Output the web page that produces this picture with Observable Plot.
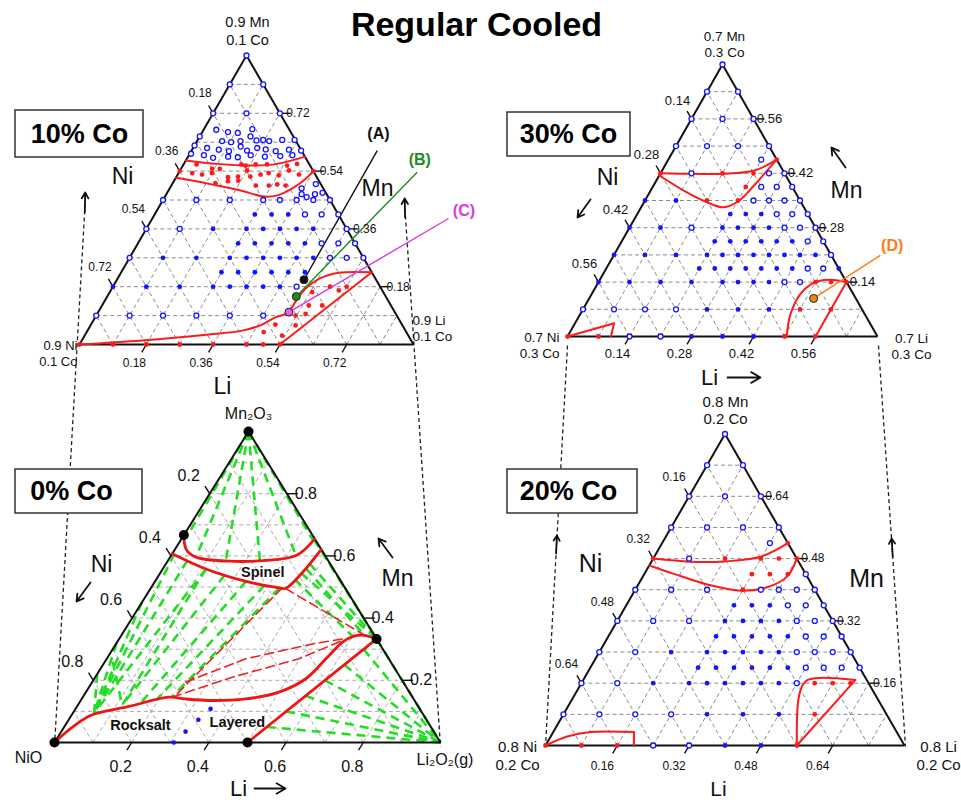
<!DOCTYPE html>
<html>
<head>
<meta charset="utf-8">
<script src="https://cdn.jsdelivr.net/npm/d3@7"></script>
<script src="https://cdn.jsdelivr.net/npm/@observablehq/plot@0.6"></script>
<style>
html,body{margin:0;padding:0;background:#fff;}
#chart svg{display:block;}
</style>
</head>
<body>
<div id="chart"></div>
<script>
// ================= DATA =================
const title = "Regular Cooled";
const panelNames = ["10% Co", "30% Co", "0% Co", "20% Co"];

// tick labels (Ni on left edge, Mn on right edge, Li on bottom edge), at grid steps 2,4,6,8
const ticks10 = ["0.18", "0.36", "0.54", "0.72"];
const ticks30 = ["0.14", "0.28", "0.42", "0.56"];
const ticks20 = ["0.16", "0.32", "0.48", "0.64"];
const ticks0  = ["0.2", "0.4", "0.6", "0.8"];

// vertex labels: [top, left, right]
const vertex10 = [["0.9 Mn", "0.1 Co"], ["0.9 Ni", "0.1 Co"], ["0.9 Li", "0.1 Co"]];
const vertex30 = [["0.7 Mn", "0.3 Co"], ["0.7 Ni", "0.3 Co"], ["0.7 Li", "0.3 Co"]];
const vertex20 = [["0.8 Mn", "0.2 Co"], ["0.8 Ni", "0.2 Co"], ["0.8 Li", "0.2 Co"]];
const vertex0  = [["Mn₂O₃"], ["NiO"], ["Li₂O₂(g)"]];

// Sample points: rows of [Mn step, open-circle Li steps, filled Li steps, red Li steps]
// (composition in tenths of the triangle: l = Li step, m = Mn step)
const rows10 = [
  [10, [0], [], []],
  [9, [0, 1], [], []],
  [8, [0, 1, 2], [], []],
  [6, [], [], [0, 4]],
  [5, [0, 1, 2, 3, 3.5, 4, 4.5, 5], [], []],
  [4.5, [4.5, 5, 5.5], [3, 3.5, 4], []],
  [4, [0, 1, 6], [2, 3, 3.5, 4, 4.5, 5], []],
  [3.5, [5.5, 6, 6.5], [3, 3.5, 4, 4.5, 5], []],
  [3, [0, 6, 6.5, 7], [1, 2, 3, 3.5, 4, 4.5, 5, 5.5], []],
  [2.5, [], [3, 3.5, 4, 4.5, 5, 5.5], []],
  [2, [5.5], [0, 1, 2, 3, 3.5, 4, 4.5, 5], [6.5, 7]],
  [1, [0, 1, 2, 3, 4, 5], [], []],
  [0, [], [], [0, 1, 2, 3, 4, 5, 5.5, 6]]
];
// 10% Co: densely sampled compositions off the grid [l, m]
const open10 = [
  [0, 7.2], [0.38, 7.43], [0.77, 7.35], [1.08, 7.32], [1.45, 7.45],
  [0.75, 7.04], [1.04, 7.0], [1.3, 7.04], [1.52, 7.2], [1.77, 7.06], [1.96, 7.08], [2.16, 7.04], [2.53, 7.08], [2.9, 7.08],
  [0, 6.89], [0.42, 6.8], [0.8, 6.74], [1.13, 6.69], [1.4, 6.85], [1.66, 6.71], [1.92, 6.8], [2.2, 6.75], [2.53, 6.69], [2.9, 6.74], [3.28, 6.71],
  [0.04, 6.6], [0.45, 6.55], [0.77, 6.46], [1.2, 6.5], [1.5, 6.48], [1.85, 6.55], [2.3, 6.5], [2.75, 6.52], [3.1, 6.55],
  [4.3, 5.55], [4.05, 5.2], [4.25, 5.1], [4.45, 5.2], [4.65, 5.25], [3.95, 5.4]
];
const red10 = [
  [0.39, 6.23], [0.93, 6.08], [1.16, 6.08], [1.73, 6.23], [1.88, 6.19], [2.16, 6.23], [2.5, 6.23], [3.12, 6.19], [3.39, 6.25],
  [0.41, 5.93], [0.73, 5.88], [1.0, 5.93], [1.55, 5.79], [1.84, 5.81], [2.01, 6.02], [2.21, 5.81], [2.48, 5.88], [2.7, 5.93],
  [3.04, 5.85], [3.26, 6.02], [3.63, 5.88], [1.62, 5.65], [1.92, 5.67], [2.53, 5.5], [2.92, 5.5], [3.15, 5.54], [3.42, 5.5], [1.28, 5.58],
  [5.52, 0.69], [5.91, 0.31], [5.3, 0.43], [6.14, 0.66], [6.24, 1.06], [5.97, 1.0], [6.19, 1.35], [6.59, 1.35], [6.06, 1.81], [6.83, 1.87]
];

const rows30 = [
  [10, [0], [], []],
  [9, [0, 1], [], []],
  [8, [0, 1, 2], [], []],
  [7, [0, 1, 2, 3], [], []],
  [6.5, [3], [], [3.5]],
  [6, [1, 3.5, 4], [], [0, 2, 3]],
  [5.5, [3.5, 4, 4.5], [], [3]],
  [5, [3.5, 4, 4.5, 5], [0, 1], [2, 3]],
  [4.5, [4.5, 5, 5.5], [3, 3.5, 4], []],
  [4, [2, 5, 5.5, 6], [0, 1, 3, 3.5, 4, 4.5], []],
  [3.5, [6, 6.5], [3, 3.5, 4, 4.5, 5, 5.5], []],
  [3, [7], [0, 1, 2, 3, 3.5, 4, 4.5, 5, 5.5, 6, 6.5], []],
  [2.5, [6.5, 7], [3, 3.5, 4, 4.5, 5, 5.5, 6, 7.5], []],
  [2, [6, 6.5], [0, 1, 2, 3, 4, 4.5, 5, 5.5], [7, 7.5, 8]],
  [1, [0, 1, 2, 3], [4, 5, 6], [7, 8]],
  [0, [2, 3], [4, 5, 6], [0, 1, 7, 8]]
];

const rows20 = [
  [10, [0], [], []],
  [9, [0, 1], [], []],
  [8, [0, 1, 2], [], []],
  [7, [0, 1, 2, 3], [], []],
  [6.5, [3], [], [3.5]],
  [6, [1], [], [0, 2, 3, 3.5, 4]],
  [5.5, [4.5], [], [3, 3.5, 4]],
  [5, [0, 1, 2, 3.5, 4, 4.5, 5], [], [3]],
  [4.5, [4.5, 5, 5.5], [3, 3.5, 4], []],
  [4, [0, 1, 2, 5, 5.5, 6], [3, 3.5, 4, 4.5], []],
  [3.5, [5.5, 6, 6.5], [3, 3.5, 4, 4.5, 5], []],
  [3, [0, 1, 5.5, 6, 6.5, 7], [2, 3, 3.5, 4, 4.5, 5], []],
  [2.5, [6, 6.5, 7, 7.5], [3, 3.5, 4, 4.5, 5, 5.5], []],
  [2, [0, 1, 6], [2, 3, 3.5, 4, 4.5, 5, 5.5], [6.5, 7, 7.5]],
  [1, [0, 1, 2, 3], [4, 5, 6], [7]],
  [0, [3, 4], [5, 6], [0, 1, 2, 7]]
];

const blue0 = [[3.5, 1.08], [3.36, 0.73], [3.22, 0.35], [3.09, 0]];
const black0 = [[0, 10], [0, 6.67], [6.67, 3.33], [0, 0], [5, 0]];

// phase boundaries [l, m]
const bound10 = {
  spinelTop: [[0, 6.37], [1.0, 6.25], [2.02, 6.19], [2.79, 6.25], [3.5, 6.5]],
  spinelBottom: [[0, 5.77], [0.81, 5.62], [1.37, 5.5], [2.16, 5.33], [2.96, 5.12], [3.34, 5.16], [3.7, 5.44], [3.9, 5.73], [4, 6]],
  layered: [[0, 0], [1.8, 0.14], [3.7, 0.35], [4.63, 0.48], [5.12, 0.69], [5.4, 0.95], [5.64, 1.06], [5.72, 1.29], [5.73, 1.58], [5.8, 1.93], [6.03, 2.27], [6.52, 2.48], [7.5, 2.5]]
};
const straight10 = [[[6, 0], [7.5, 2.5]]];
const bound30 = {
  spinelTop: [[0, 6], [1.01, 5.98], [2.03, 5.98], [2.98, 6.1], [3.5, 6.5]],
  spinelBottom: [[0, 5.92], [1.2, 5.3], [2.0, 4.95], [2.66, 4.75], [3.03, 4.98], [3.24, 5.55], [3.39, 6.1], [3.5, 6.5]],
  layered: [[7.07, 0], [6.78, 0.83], [6.73, 1.57], [6.88, 1.91], [7.06, 2.03], [7.55, 2.08], [8, 2]]
};
const straight30 = [[[8, 0], [8, 2]], [[0, 0], [1.26, 0.49], [1.4, 0]]];
const bound20 = {
  spinelTop: [[0, 6], [1.09, 5.9], [2.04, 5.91], [2.96, 6.06], [3.5, 6.5]],
  spinelBottom: [[0, 5.78], [0.82, 5.51], [1.92, 5.17], [2.95, 4.97], [3.63, 5.08], [4.02, 5.43], [4, 6]],
  layered: [[7, 0], [6.5, 1.02], [6.28, 1.55], [6.19, 1.93], [6.24, 2.1], [6.57, 2.17], [7.58, 2.1]],
  rocksalt: [[0, 0], [0.46, 0.29], [1.04, 0.43], [2.25, 0.43]]
};
const straight20 = [[[7, 0], [7.58, 2.1]], [[2.25, 0.43], [2.46, 0]]];
const bound0 = {
  spinelTop: [[0, 6.67], [0.29, 6.21], [0.67, 5.96], [1.6, 5.83], [2.46, 5.85], [3.24, 6.01], [3.45, 6.53]],
  spinelBottom: [[0, 6.07], [1.12, 5.58], [2.36, 5.18], [3.33, 4.97], [3.5, 4.96], [3.68, 5.48], [3.79, 6.21]],
  rocksaltLayered: [[0, 0], [0.21, 0.49], [0.53, 0.89], [1.35, 1.16], [2.23, 1.46], [2.69, 1.4], [3.41, 1.35], [4.25, 1.4], [5.0, 1.62], [5.48, 2.05], [5.68, 2.69], [5.84, 3.23], [6.04, 3.42], [6.34, 3.44], [6.67, 3.33]]
};
const straight0 = [[[5, 0], [6.67, 3.33]]];
const dashed0 = [
  [[3.4, 4.97], [2.36, 1.46]],
  [[3.5, 4.95], [6.3, 3.45]],
  [[2.42, 1.94], [3.6, 2.69], [5.09, 3.17], [5.79, 3.33]],
  [[2.32, 1.46], [3.55, 2.1], [4.98, 2.69], [5.81, 3.28]]
];
// tie lines (green) in the 0% Co diagram
const tie0 = [
  [[0, 10], [0.1, 6.76]], [[0, 10], [0.67, 5.96]], [[0, 10], [1.5, 5.84]], [[0, 10], [2.38, 5.85]], [[0, 10], [3.24, 6.0]], [[0, 10], [3.43, 6.5]],
  [[0.06, 6.07], [0.55, 0.95]], [[0.5, 5.85], [0.55, 0.95]], [[1.12, 5.58], [0.55, 0.95]], [[0, 4.5], [0.55, 0.95]], [[0, 3.2], [0.55, 0.95]],
  [[1.7, 5.38], [1.15, 1.2]], [[1.12, 5.58], [1.15, 1.2]], [[2.36, 5.18], [1.6, 1.3]], [[2.9, 5.05], [1.95, 1.38]], [[3.33, 4.97], [2.3, 1.46]],
  [[0, 2.2], [0.55, 0.95]], [[0.2, 2.6], [1.15, 1.2]],
  [[3.79, 6.2], [6.67, 3.33]], [[3.72, 5.75], [6.67, 3.33]], [[3.65, 5.45], [6.67, 3.33]], [[3.45, 6.52], [6.67, 3.33]],
  [[3.58, 5.25], [6.0, 3.42]], [[3.7, 5.6], [6.3, 3.44]],
  [[5.25, 0.5], [10, 0]], [[5.5, 1.0], [10, 0]], [[5.75, 1.5], [10, 0]], [[6.0, 2.0], [10, 0]], [[6.25, 2.5], [10, 0]], [[6.5, 3.0], [10, 0]], [[6.67, 3.33], [10, 0]]
];

// labelled compositions with leader lines: [l, m] of point, [l, m] of line end, [l, m] of label
const marked10 = [
  {name: "(A)", pt: [5.6, 2.24], end: [5.56, 6.71], lab: [5.3, 7.3], color: "#111111", dot: "#111111"},
  {name: "(B)", pt: [5.66, 1.66], end: [7.13, 5.96], lab: [7.0, 6.38], color: "#1e8c1e", dot: "#1e8c1e"},
  {name: "(C)", pt: [5.71, 1.12], end: [8.87, 4.36], lab: [9.2, 4.62], color: "#d63ae0", dot: "#e060e8"}
];
const marked30 = [
  {name: "(D)", pt: [7.24, 1.4], end: [8.6, 2.98], lab: [8.8, 3.35], color: "#ff7a12", dot: "#e8891e"}
];
// phase-region names in the 0% Co diagram, placed at [l, m]
const phaseNames0 = [
  {text: "Spinel", at: [2.64, 5.48]},
  {text: "Rocksalt", at: [1.95, 0.55]},
  {text: "Layered", at: [4.41, 0.65]}
];

// ================= LAYOUT (pixel geometry, styles) =================
const layout = {
  t10: {L: [79, 344], R: [413, 344], T: [246, 55], font: 12, bOff: [-12, 19], lOff: [-13, -20], rOff: 18},
  t30: {L: [567, 336], R: [877, 336], T: [722, 64], font: 13, bOff: [-12, 17], lOff: [-14, -18], rOff: 16},
  t20: {L: [545, 745], R: [904, 745], T: [724.5, 433.5], font: 12, bOff: [-15, 21], lOff: [-15, -19], rOff: 16},
  t0:  {L: [54, 742], R: [440, 742], T: [248, 431], font: 16, bOff: [-11, 24], lOff: [-21, -18], rOff: 19}
};
const vertexPos = {
  t10: [{x: 247, y: 22, a: "middle", f: 14.5, g: 18}, {x: 77, y: 345, a: "end", f: 13, g: 16}, {x: 412, y: 320, a: "start", f: 13.5, g: 16}],
  t30: [{x: 724, y: 36, a: "middle", f: 13.5, g: 16}, {x: 559, y: 337, a: "end", f: 13.5, g: 16}, {x: 911, y: 338, a: "middle", f: 13.5, g: 16}],
  t20: [{x: 725, y: 402, a: "middle", f: 15, g: 17}, {x: 517, y: 747, a: "middle", f: 15, g: 18}, {x: 938, y: 747, a: "middle", f: 15, g: 18}],
  t0:  [{x: 248, y: 413, a: "middle", f: 16, g: 0}, {x: 28, y: 757, a: "middle", f: 16, g: 0}, {x: 416, y: 759, a: "start", f: 16, g: 0}]
};
const boxes = [
  {x1: 15, x2: 143, y1: 110, y2: 157, tx: 79, ty: 134},
  {x1: 507, x2: 630, y1: 112, y2: 156, tx: 568, ty: 134},
  {x1: 15, x2: 142, y1: 469, y2: 513, tx: 71, ty: 491},
  {x1: 507, x2: 637, y1: 469, y2: 513, tx: 568, ty: 491}
];
const axisNames = [
  {x: 122, y: 176, text: "Ni", f: 23}, {x: 377, y: 188, text: "Mn", f: 23}, {x: 222, y: 386, text: "Li", f: 23},
  {x: 607, y: 177, text: "Ni", f: 23}, {x: 846, y: 190, text: "Mn", f: 23}, {x: 709, y: 377, text: "Li", f: 22},
  {x: 101, y: 564, text: "Ni", f: 23}, {x: 397, y: 578, text: "Mn", f: 23}, {x: 238, y: 788, text: "Li", f: 22},
  {x: 590, y: 563, text: "Ni", f: 25}, {x: 866, y: 578, text: "Mn", f: 25}, {x: 718, y: 789, text: "Li", f: 21}
];
const arrowsPix = [
  {x1: 590, y1: 199, x2: 577, y2: 217}, {x1: 845, y1: 167, x2: 831, y2: 147}, {x1: 727, y1: 377, x2: 760, y2: 377},
  {x1: 90, y1: 582, x2: 76, y2: 601}, {x1: 392, y1: 557, x2: 378, y2: 538}, {x1: 254, y1: 788, x2: 285, y2: 788},
  {x1: 84.3, y1: 212, x2: 84.7, y2: 192}, {x1: 404.6, y1: 217, x2: 404.2, y2: 198},
  {x1: 555.6, y1: 553, x2: 556.4, y2: 535}, {x1: 892.2, y1: 556, x2: 891.2, y2: 538}
];
const connectors = [
  {x1: 85, y1: 196, x2: 54, y2: 746}, {x1: 404, y1: 201, x2: 440, y2: 746},
  {x1: 567, y1: 345, x2: 545, y2: 746}, {x1: 878, y1: 345, x2: 905, y2: 746}
];

// ================= GEOMETRY HELPERS =================
function P(t, l, m) {
  const g = layout[t];
  const a = 1 - (l + m) / 10, b = l / 10, c = m / 10;
  return [a * g.L[0] + b * g.R[0] + c * g.T[0], a * g.L[1] + b * g.R[1] + c * g.T[1]];
}
function seg(t, p, q, extra = {}) {
  const [x1, y1] = P(t, p[0], p[1]);
  const [x2, y2] = P(t, q[0], q[1]);
  return {x1, y1, x2, y2, ...extra};
}
function pathRows(t, list, id) {
  return list.map(([l, m], i) => { const [x, y] = P(t, l, m); return {x, y, id: t + id, i}; });
}

const tris = ["t10", "t30", "t20", "t0"];
const tickSets = {t10: ticks10, t30: ticks30, t20: ticks20, t0: ticks0};
const vertexSets = {t10: vertex10, t30: vertex30, t20: vertex20, t0: vertex0};

// grid lines, edges, ticks
const grid = [], edges = [], tickLines = [], tickText = [], vText = [];
for (const t of tris) {
  const light = t === "t0";
  for (let k = 1; k <= 9; k++) {
    grid.push(seg(t, [0, k], [10 - k, k], {light}));
    grid.push(seg(t, [k, 0], [k, 10 - k], {light}));
    grid.push(seg(t, [k, 0], [0, k], {light}));
  }
  edges.push(seg(t, [0, 0], [10, 0]), seg(t, [10, 0], [0, 10]), seg(t, [0, 10], [0, 0]));
  const g = layout[t];
  tickSets[t].forEach((lab, i) => {
    const k = 2 * (i + 1);
    const unit = (p, q) => { const dx = p[0] - q[0], dy = p[1] - q[1], n = Math.hypot(dx, dy); return [dx / n, dy / n]; };
    let b = P(t, k, 0), d = unit(b, P(t, k, 1));
    tickLines.push({x1: b[0], y1: b[1], x2: b[0] + d[0] * 9, y2: b[1] + d[1] * 9});
    tickText.push({x: b[0] + g.bOff[0], y: b[1] + g.bOff[1], text: lab, f: g.font, a: "middle"});
    b = P(t, 0, 10 - k); d = unit(b, P(t, 1, 9 - k));
    tickLines.push({x1: b[0], y1: b[1], x2: b[0] + d[0] * 9, y2: b[1] + d[1] * 9});
    tickText.push({x: b[0] + g.lOff[0], y: b[1] + g.lOff[1], text: lab, f: g.font, a: "middle"});
    b = P(t, 10 - k, k); d = unit(b, P(t, 9 - k, k));
    tickLines.push({x1: b[0], y1: b[1], x2: b[0] + d[0] * 11, y2: b[1] + d[1] * 11});
    tickText.push({x: b[0] + g.rOff, y: b[1], text: lab, f: g.font, a: "start"});
  });
  vertexSets[t].forEach((lines, j) => {
    const v = vertexPos[t][j];
    lines.forEach((s, n) => vText.push({x: v.x, y: v.y + n * v.g, text: s, f: v.f, a: v.a}));
  });
}

// sample points
const dots = [];
for (const [t, rows] of [["t10", rows10], ["t30", rows30], ["t20", rows20]]) {
  for (const [m, op, fi, re] of rows) {
    for (const l of op) dots.push({t, l, m, kind: "open"});
    for (const l of fi) dots.push({t, l, m, kind: "filled"});
    for (const l of re) dots.push({t, l, m, kind: "red"});
  }
}
for (const [l, m] of open10) dots.push({t: "t10", l, m, kind: "open"});
for (const [l, m] of red10) dots.push({t: "t10", l, m, kind: "red"});
for (const [l, m] of blue0) dots.push({t: "t0", l, m, kind: "small"});
for (const [l, m] of black0) dots.push({t: "t0", l, m, kind: "black"});
dots.forEach(d => { const [x, y] = P(d.t, d.l, d.m); d.x = x; d.y = y; });

// curves
const smooth = [], smoothThick = [];
for (const [k, v] of Object.entries(bound10)) smooth.push(...pathRows("t10", v, k));
for (const [k, v] of Object.entries(bound30)) smooth.push(...pathRows("t30", v, k));
for (const [k, v] of Object.entries(bound20)) smooth.push(...pathRows("t20", v, k));
for (const [k, v] of Object.entries(bound0)) smoothThick.push(...pathRows("t0", v, k));
const straightLines = [];
straight10.forEach((s, i) => straightLines.push(...pathRows("t10", s, "s" + i)));
straight30.forEach((s, i) => straightLines.push(...pathRows("t30", s, "s" + i)));
straight20.forEach((s, i) => straightLines.push(...pathRows("t20", s, "s" + i)));
const straightThick = [];
straight0.forEach((s, i) => straightThick.push(...pathRows("t0", s, "s" + i)));
const dashedRed = [];
dashed0.forEach((s, i) => dashedRed.push(...pathRows("t0", s, "d" + i)));
const ties = tie0.map(([p, q]) => seg("t0", p, q));

// labelled points
const leaders = [], leaderDots = [], leaderText = [];
for (const [t, list] of [["t10", marked10], ["t30", marked30]]) {
  for (const mk of list) {
    leaders.push(seg(t, mk.pt, mk.end, {color: mk.color}));
    const [x, y] = P(t, mk.pt[0], mk.pt[1]);
    leaderDots.push({x, y, fill: mk.dot});
    const [lx, ly] = P(t, mk.lab[0], mk.lab[1]);
    leaderText.push({x: lx, y: ly, text: mk.name, color: mk.color});
  }
}
const phaseLabels = phaseNames0.map(d => { const [x, y] = P("t0", d.at[0], d.at[1]); return {x, y, text: d.text}; });

// ================= PLOT =================
const chart = Plot.plot({
  width: 961, height: 800, margin: 0,
  x: {domain: [0, 961], range: [0, 961], axis: null},
  y: {domain: [0, 800], range: [0, 800], axis: null},
  style: {fontFamily: "'Liberation Sans', Arial, Helvetica, sans-serif", background: "#ffffff", color: "#111"},
  marks: [
    Plot.link(grid, {x1: "x1", y1: "y1", x2: "x2", y2: "y2", stroke: d => d.light ? "#aaaaaa" : "#8a8a8a", strokeWidth: 1, strokeDasharray: "4,3"}),
    Plot.link(ties, {x1: "x1", y1: "y1", x2: "x2", y2: "y2", stroke: "#22dd22", strokeWidth: 2.6, strokeDasharray: "9,6"}),
    Plot.link(connectors, {x1: "x1", y1: "y1", x2: "x2", y2: "y2", stroke: "#222", strokeWidth: 1.3, strokeDasharray: "4,3"}),
    Plot.arrow(arrowsPix, {x1: "x1", y1: "y1", x2: "x2", y2: "y2", stroke: "#111", strokeWidth: 1.8, headLength: 9}),
    Plot.link(edges, {x1: "x1", y1: "y1", x2: "x2", y2: "y2", stroke: "#111", strokeWidth: 2}),
    Plot.link(tickLines, {x1: "x1", y1: "y1", x2: "x2", y2: "y2", stroke: "#111", strokeWidth: 1.4}),
    Plot.line(dashedRed, {x: "x", y: "y", z: "id", stroke: "#f02020", strokeWidth: 1.6, strokeDasharray: "9,5"}),
    Plot.line(smooth, {x: "x", y: "y", z: "id", stroke: "#ff1a1a", strokeWidth: 2, curve: "catmull-rom"}),
    Plot.line(straightLines, {x: "x", y: "y", z: "id", stroke: "#ff1a1a", strokeWidth: 2}),
    Plot.line(smoothThick, {x: "x", y: "y", z: "id", stroke: "#ee1515", strokeWidth: 2.8, curve: "catmull-rom"}),
    Plot.line(straightThick, {x: "x", y: "y", z: "id", stroke: "#ee1515", strokeWidth: 2.8}),
    Plot.link(leaders, {x1: "x1", y1: "y1", x2: "x2", y2: "y2", stroke: d => d.color, strokeWidth: 1.4}),
    Plot.dot(dots.filter(d => d.kind === "open"), {x: "x", y: "y", r: 2.5, stroke: "#1414ff", strokeWidth: 1.3, fill: "white"}),
    Plot.dot(dots.filter(d => d.kind === "filled"), {x: "x", y: "y", r: 2.4, fill: "#1414ff"}),
    Plot.dot(dots.filter(d => d.kind === "red"), {x: "x", y: "y", r: 2.4, fill: "#ff1a1a"}),
    Plot.dot(dots.filter(d => d.kind === "small"), {x: "x", y: "y", r: 2.3, fill: "#1414ff"}),
    Plot.dot(dots.filter(d => d.kind === "black"), {x: "x", y: "y", r: 5, fill: "#000"}),
    Plot.dot(leaderDots, {x: "x", y: "y", r: 4, fill: d => d.fill, stroke: "#222", strokeWidth: 1}),
    Plot.text(leaderText, {x: "x", y: "y", text: "text", fill: d => d.color, fontSize: 16, fontWeight: "bold"}),
    Plot.text(phaseLabels, {x: "x", y: "y", text: "text", fontSize: 14.5, fontWeight: "bold", fill: "#111"}),
    Plot.text(tickText, {x: "x", y: "y", text: "text", fontSize: d => d.f, textAnchor: d => d.a, fill: "#111"}),
    Plot.text(vText.filter(d => d.a === "middle"), {x: "x", y: "y", text: "text", fontSize: d => d.f, textAnchor: "middle", fill: "#111"}),
    Plot.text(vText.filter(d => d.a === "start"), {x: "x", y: "y", text: "text", fontSize: d => d.f, textAnchor: "start", fill: "#111"}),
    Plot.text(vText.filter(d => d.a === "end"), {x: "x", y: "y", text: "text", fontSize: d => d.f, textAnchor: "end", fill: "#111"}),
    Plot.text(axisNames, {x: "x", y: "y", text: "text", fontSize: d => d.f, fill: "#111"}),
    Plot.rect(boxes, {x1: "x1", x2: "x2", y1: "y1", y2: "y2", fill: "white", stroke: "#333", strokeWidth: 1.5}),
    Plot.text(boxes, {x: "tx", y: "ty", text: (d, i) => panelNames[i], fontSize: 27, fontWeight: "bold", fill: "#000"}),
    Plot.text([title], {x: () => 476, y: () => 25, text: d => d, fontSize: 34, fontWeight: "bold", fill: "#000"})
  ]
});
document.getElementById("chart").appendChild(chart);
</script>
</body>
</html>
